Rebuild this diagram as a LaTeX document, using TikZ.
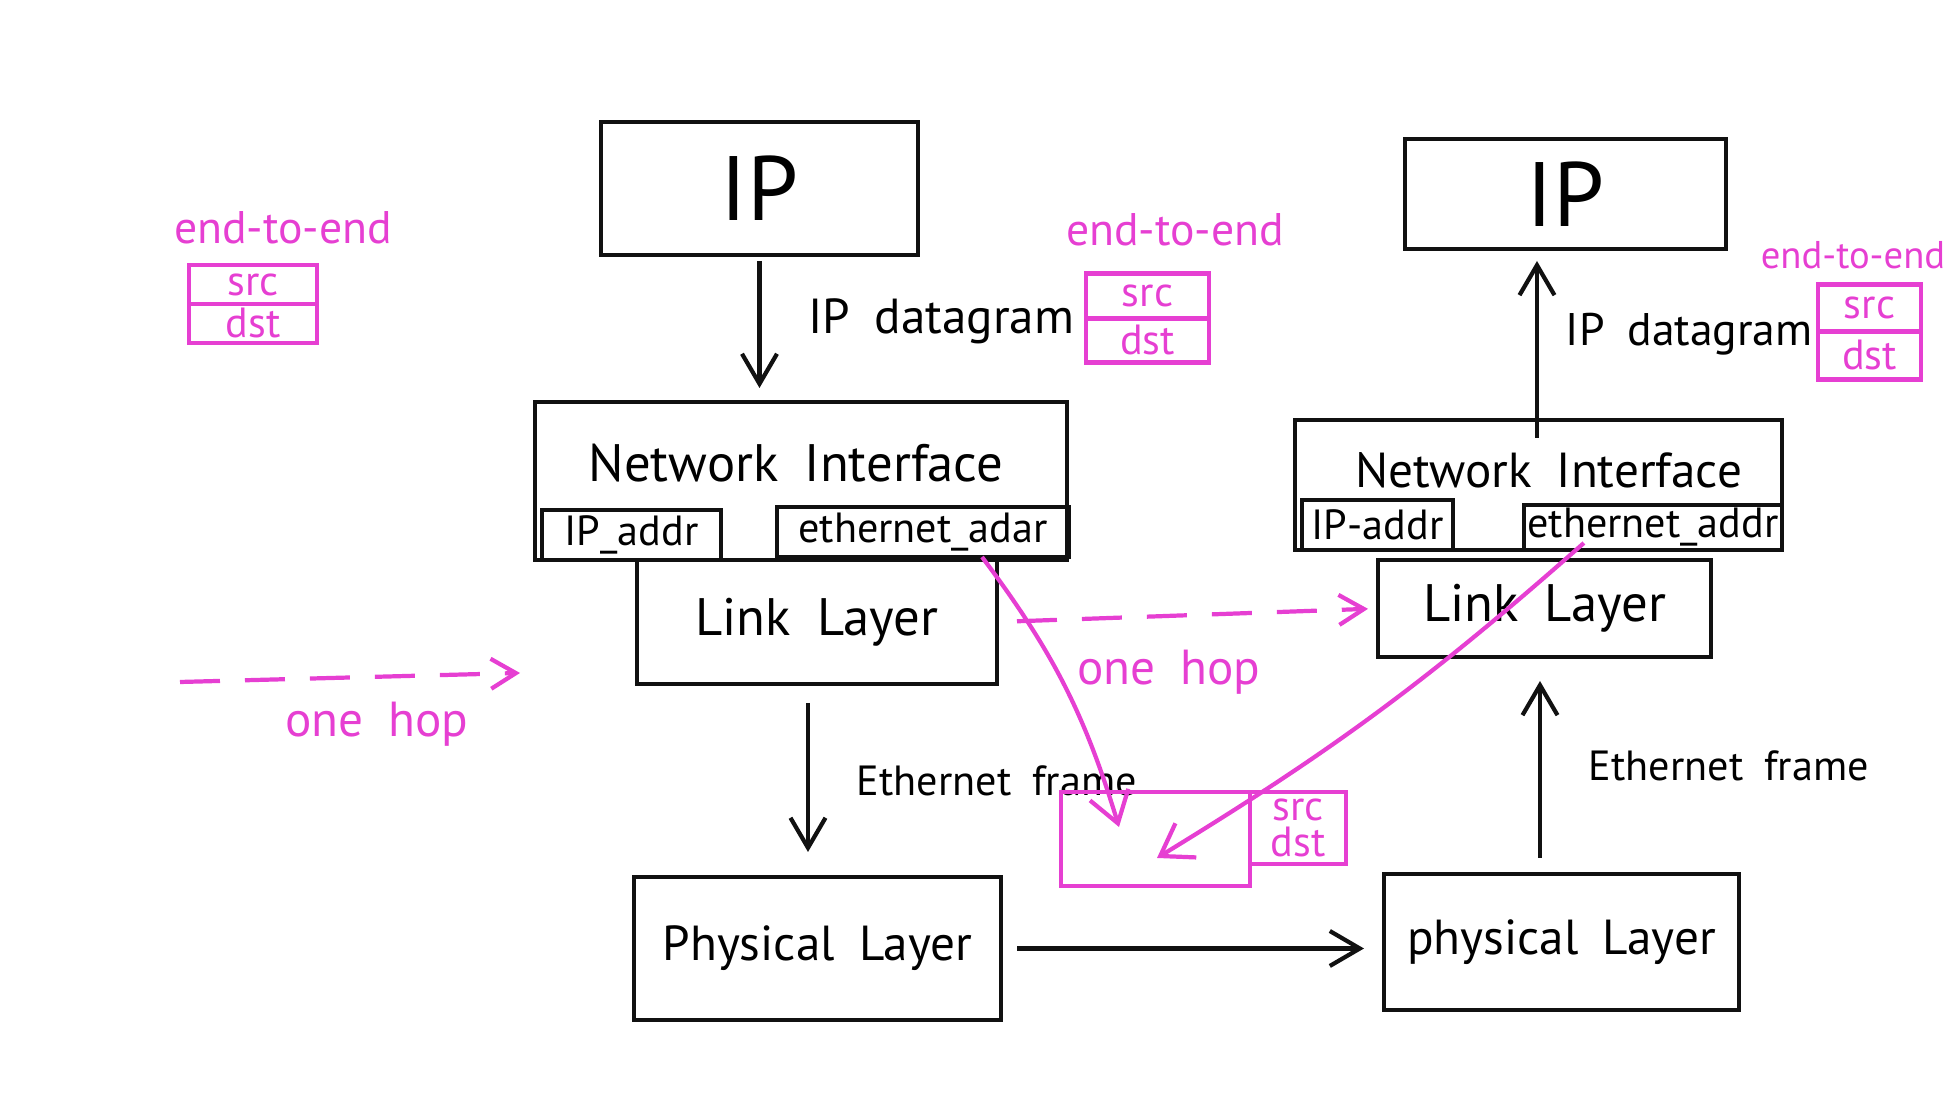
\documentclass[tikz,border=0pt]{standalone}
\usepackage{fontspec}
\setmainfont{PT Sans}
\usetikzlibrary{
  arrows.meta,
  positioning,
  calc
}
\definecolor{PenBlack}{HTML}{111111}
\definecolor{PenPink}{HTML}{E63FD2}
\tikzset{
  layer/.style={
    draw=PenBlack,
    line width=1.3pt,
    outer sep=0pt,
    inner sep=0pt,
    align=center,
    font=\fontsize{15}{18}\selectfont
  },
  field/.style={
    draw=PenBlack,
    line width=1.2pt,
    outer sep=0pt,
    inner sep=1pt,
    minimum height=0.5cm,
    font=\fontsize{12}{14}\selectfont
  },
  pinkbox/.style={
    draw=PenPink,
    line width=1.3pt,
    outer sep=0pt,
    inner sep=0pt,
    text=PenPink,
    align=center,
    font=\fontsize{12}{12}\selectfont
  },
  flow/.style={
    -{Straight Barb[length=3mm,width=3.5mm]},
    line width=1.2pt,
    draw=PenBlack
  },
  hop/.style={
    -{Straight Barb[length=2.5mm,width=3mm]},
    line width=1.2pt,
    draw=PenPink,
    dash pattern=on 4mm off 2.5mm
  },
  trace/.style={
    -{Straight Barb[length=3mm,width=4mm]},
    line width=1.2pt,
    draw=PenPink
  },
  pinktext/.style={
    text=PenPink,
    font=\fontsize{13}{15}\selectfont
  },
  tag/.style={
    font=\fontsize{14}{16}\selectfont
  }
}

\begin{document}
\begin{tikzpicture}

  \useasboundingbox (0,0) rectangle (19.5,11);

  % left host
  \node[layer, minimum width=3.17cm, minimum height=1.33cm,
    font=\fontsize{26}{30}\selectfont] (ipL) at (7.595,9.115) {IP};

  \node[layer, minimum width=5.32cm, minimum height=1.58cm] (niL) at (8.01,6.19) {};
  \node[layer, draw=none] (niLtitle) at ([xshift=-0.05cm,yshift=-0.61cm]niL.north) {Network\enspace Interface};
  \node[field, anchor=south west, minimum width=1.79cm] (ipaddrL)
    at ([xshift=0.07cm]niL.south west) {IP\_addr};
  \node[field, anchor=south east, minimum width=2.92cm] (ethL)
    at ([xshift=0.02cm,yshift=0.03cm]niL.south east) {ethernet\_adar};

  \node[layer, minimum width=3.6cm, minimum height=1.24cm] (linkL) at (8.17,4.78) {Link\enspace Layer};
  \node[layer, minimum width=3.67cm, minimum height=1.43cm,
    font=\fontsize{14}{16}\selectfont] (physL) at (8.175,1.515) {Physical\enspace Layer};

  % right host
  \node[layer, minimum width=3.21cm, minimum height=1.10cm,
    font=\fontsize{26}{30}\selectfont] (ipR) at (15.655,9.06) {IP};

  \node[layer, minimum width=4.87cm, minimum height=1.30cm] (niR) at (15.385,6.15) {};
  \node[layer, draw=none, font=\fontsize{14}{16}\selectfont] (niRtitle)
    at ([xshift=0.1cm,yshift=-0.5cm]niR.north) {Network\enspace Interface};
  \node[field, anchor=south west, minimum width=1.51cm] (ipaddrR)
    at ([xshift=0.07cm]niR.south west) {IP-addr};
  \node[field, anchor=south east, minimum width=2.29cm, minimum height=0.44cm] (ethR)
    at (niR.south east) {ethernet\_addr};

  \node[layer, minimum width=3.33cm, minimum height=0.97cm] (linkR) at (15.445,4.915) {Link\enspace Layer};
  \node[layer, minimum width=3.55cm, minimum height=1.36cm,
    font=\fontsize{14}{16}\selectfont] (physR) at (15.615,1.58) {physical\enspace Layer};

  % black flows
  \draw[flow, shorten <=0.6mm, shorten >=1.4mm]
    (ipL.south) -- node[tag, right=3.5mm, pos=0.45] (dgL) {IP\enspace datagram}
    (ipL.south |- niL.north);
  \draw[flow, shorten <=1.9mm, shorten >=2.5mm]
    ([xshift=-0.9mm]linkL.south) -- node[tag, right=3.5mm, font=\fontsize{12}{14}\selectfont] (frL) {Ethernet\enspace frame}
    ([xshift=-0.9mm]linkL.south |- physL.north);
  \draw[flow, shorten <=1.6mm, shorten >=2mm]
    (physL.east) -- (physL.east -| physR.west);
  \draw[flow, shorten <=1.6mm, shorten >=2.4mm]
    ([xshift=-0.45mm]linkR.south |- physR.north) -- node[tag, right=3.5mm, font=\fontsize{12}{14}\selectfont] (frR) {Ethernet\enspace frame}
    ([xshift=-0.45mm]linkR.south);
  \draw[flow, shorten <=-1.8mm, shorten >=1.2mm]
    ([xshift=-2.85mm]ipR.south |- niR.north) -- node[tag, right=1.5mm, font=\fontsize{13}{15}\selectfont] (dgR) {IP\enspace datagram}
    ([xshift=-2.85mm]ipR.south);

  % end-to-end headers
  \node[pinkbox, minimum width=1.28cm, minimum height=0.39cm] (srcA) at (2.53,8.155) {src};
  \node[pinkbox, minimum width=1.28cm, minimum height=0.39cm, below=0pt of srcA] (dstA) {dst};
  \node[pinktext] (e2eA) at (2.83,8.72) {end-to-end};

  \node[pinkbox, minimum width=1.23cm, minimum height=0.445cm] (srcM) at (11.475,8.04) {src};
  \node[pinkbox, minimum width=1.23cm, minimum height=0.445cm, below=0pt of srcM] (dstM) {dst};
  \node[pinktext] (e2eM) at (11.75,8.70) {end-to-end};

  \node[pinkbox, minimum width=1.03cm, minimum height=0.475cm] (srcR) at (18.695,7.92) {src};
  \node[pinkbox, minimum width=1.03cm, minimum height=0.475cm, below=0pt of srcR] (dstR) {dst};
  \node[pinktext, font=\fontsize{11}{13}\selectfont] (e2eR) at (18.53,8.45) {end-to-end};

  % one hop
  \coordinate (hopA) at (1.80,4.18);
  \coordinate (hopB) at (5.20,4.27);
  \draw[hop] (hopA) -- (hopB);
  \node[pinktext, font=\fontsize{14}{16}\selectfont] (hopAtxt) at (3.77,3.76) {one\enspace hop};

  \draw[hop, shorten <=2mm, shorten >=1mm] (linkL.east) -- (linkR.west);
  \node[pinktext, font=\fontsize{14}{16}\selectfont] (hopMtxt) at (11.69,4.28) {one\enspace hop};

  % ethernet frame on the wire
  \node[pinkbox, minimum width=1.89cm, minimum height=0.94cm] (frame) at (11.555,2.61) {};
  \node[pinkbox, anchor=north west, minimum width=0.96cm, minimum height=0.72cm] (frameHdr)
    at (frame.north east) {src\\[-2pt]dst};

  \coordinate (hitL) at (11.19,2.73);
  \coordinate (hitR) at (11.57,2.42);
  \draw[trace] ([xshift=0.59cm]ethL.south) to[bend left=10] (hitL);
  \draw[trace] ([xshift=-0.69cm,yshift=0.07cm]ethR.south) to[bend left=5] (hitR);

\end{tikzpicture}
\end{document}
